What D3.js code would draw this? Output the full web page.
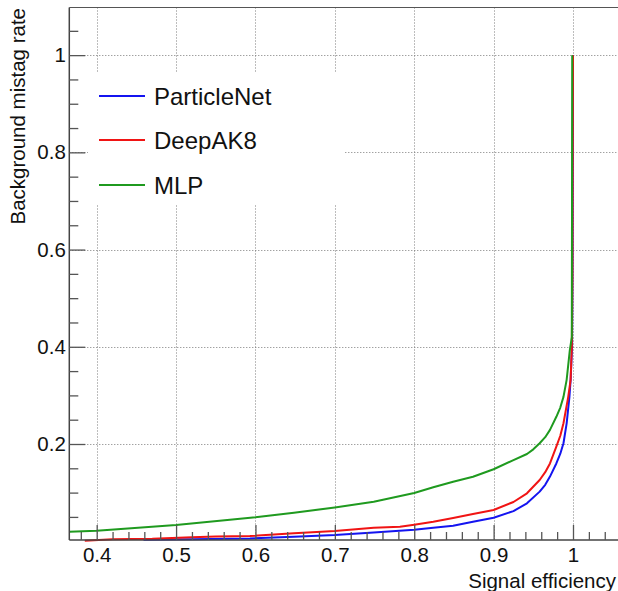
<!DOCTYPE html>
<html>
<head>
<meta charset="utf-8">
<script src="https://cdn.jsdelivr.net/npm/d3@7"></script>
<style>
  html, body { margin: 0; padding: 0; background: #fff; }
  svg { display: block; font-family: "Liberation Sans", Arial, Helvetica, sans-serif; }
</style>
</head>
<body>
<svg id="chart" width="618" height="591"></svg>
<script>
// ---------------- data ----------------
const seriesNames = ["ParticleNet", "DeepAK8", "MLP"];
const seriesColors = ["#1414f0", "#f01414", "#1f9a1f"];

const particleNetEff = [0.459, 0.52, 0.57, 0.593, 0.6485, 0.70, 0.749, 0.80, 0.824, 0.849, 0.874, 0.90, 0.925, 0.942, 0.958, 0.965, 0.971, 0.979, 0.984, 0.988, 0.992, 0.9955, 0.997, 0.9988, 0.9995, 1.0];
const particleNetMistag = [0.003, 0.004, 0.005, 0.0055, 0.0093, 0.0128, 0.018, 0.0235, 0.0278, 0.032, 0.040, 0.0484, 0.062, 0.078, 0.102, 0.116, 0.133, 0.160, 0.180, 0.2015, 0.2426, 0.297, 0.332, 0.40, 0.60, 1.0];

const deepAK8Eff = [0.385, 0.42, 0.47, 0.52, 0.55, 0.593, 0.6485, 0.70, 0.749, 0.782, 0.80, 0.824, 0.849, 0.874, 0.90, 0.925, 0.942, 0.958, 0.965, 0.971, 0.979, 0.984, 0.988, 0.994, 0.997, 0.9985, 0.9993, 0.9995, 1.0];
const deepAK8Mistag = [0.001, 0.004, 0.005, 0.008, 0.0095, 0.0107, 0.0163, 0.021, 0.0278, 0.0298, 0.034, 0.040, 0.0477, 0.056, 0.0642, 0.0807, 0.0986, 0.126, 0.142, 0.160, 0.1945, 0.217, 0.2426, 0.297, 0.332, 0.40, 0.55, 0.72, 1.0];

const mlpEff = [0.3655, 0.40, 0.50, 0.60, 0.6485, 0.70, 0.749, 0.80, 0.824, 0.849, 0.874, 0.90, 0.925, 0.942, 0.950, 0.958, 0.965, 0.971, 0.979, 0.984, 0.988, 0.992, 0.996, 0.9985, 0.999];
const mlpMistag = [0.0196, 0.0216, 0.0333, 0.0492, 0.0587, 0.0694, 0.0813, 0.0992, 0.111, 0.1225, 0.1327, 0.148, 0.167, 0.1795, 0.189, 0.2015, 0.214, 0.229, 0.256, 0.275, 0.297, 0.332, 0.393, 0.42, 1.0];

const xMajorTicks = [0.4, 0.5, 0.6, 0.7, 0.8, 0.9, 1.0];
const xTickLabels = ["0.4", "0.5", "0.6", "0.7", "0.8", "0.9", "1"];
const yMajorTicks = [0.2, 0.4, 0.6, 0.8, 1.0];
const yTickLabels = ["0.2", "0.4", "0.6", "0.8", "1"];
const xTitle = "Signal efficiency";
const yTitle = "Background mistag rate";

// ---------------- layout ----------------
const svg = d3.select("#chart");
const L = 69.3, T = 7.5, B = 540, R = 640;
const font = '"Liberation Sans", Arial, Helvetica, sans-serif';

const x = d3.scaleLinear().domain([0.3655, 1.0]).range([L, 573]);
x.domain([0.3655, x.invert(R)]).range([L, R]);
const y = d3.scaleLinear().domain([0.0025, 1.098]).range([B, T]);

const xMinor = d3.range(0.38, 1.081, 0.02).map(v => +v.toFixed(2)).filter(v => !xMajorTicks.some(m => Math.abs(m - v) < 1e-6));
const yMinor = d3.range(0.05, 1.09, 0.05).map(v => +v.toFixed(2)).filter(v => !yMajorTicks.some(m => Math.abs(m - v) < 1e-6));

// grid
const grid = svg.append("g").attr("stroke", "#7a7a7a").attr("stroke-width", 1).attr("stroke-dasharray", "1,2");
grid.selectAll("line.gx").data(xMajorTicks).join("line")
  .attr("x1", d => Math.round(x(d)) + 0.5).attr("x2", d => Math.round(x(d)) + 0.5)
  .attr("y1", T).attr("y2", B);
grid.selectAll("line.gy").data(yMajorTicks).join("line")
  .attr("y1", d => Math.round(y(d)) + 0.5).attr("y2", d => Math.round(y(d)) + 0.5)
  .attr("x1", L).attr("x2", R);

// legend box (white background, no border)
svg.append("rect").attr("x", 88).attr("y", 72).attr("width", 257).attr("height", 133).attr("fill", "#fff");

// clip for curves
svg.append("clipPath").attr("id", "clip").append("rect")
  .attr("x", L).attr("y", T).attr("width", R - L).attr("height", B - T + 2);

const line = d3.line().x(d => x(d[0])).y(d => y(d[1]));
const seriesData = [
  d3.zip(particleNetEff, particleNetMistag),
  d3.zip(deepAK8Eff, deepAK8Mistag),
  d3.zip(mlpEff, mlpMistag)
];
const curves = svg.append("g").attr("clip-path", "url(#clip)");
curves.selectAll("path").data(seriesData).join("path")
  .attr("d", line)
  .attr("fill", "none")
  .attr("stroke", (d, i) => seriesColors[i])
  .attr("stroke-width", 2)
  .attr("stroke-linejoin", "round");

// top frame line
svg.append("line").attr("x1", L).attr("x2", 618).attr("y1", T).attr("y2", T)
  .attr("stroke", "#555").attr("stroke-width", 1);

// x axis
const xAxis = d3.axisBottom(x).tickValues(xMajorTicks)
  .tickFormat((d, i) => xTickLabels[i]).tickSize(-15).tickPadding(7);
const gx = svg.append("g").attr("transform", `translate(0,${B})`).call(xAxis);
gx.select(".domain").attr("d", `M${L},0H${R}`).attr("stroke", "#444").attr("stroke-width", 1.5);
gx.selectAll(".tick line").attr("stroke", "#555").attr("stroke-width", 1.3);
gx.selectAll(".tick text").attr("font-family", font).attr("font-size", 20.5).attr("fill", "#111");
const xAxisMinor = d3.axisBottom(x).tickValues(xMinor).tickSize(-8).tickFormat("");
const gxm = svg.append("g").attr("transform", `translate(0,${B})`).call(xAxisMinor);
gxm.select(".domain").remove();
gxm.selectAll(".tick line").attr("stroke", "#555").attr("stroke-width", 1.3);

// y axis
const yAxis = d3.axisLeft(y).tickValues(yMajorTicks)
  .tickFormat((d, i) => yTickLabels[i]).tickSize(-16).tickPadding(3.5);
const gy = svg.append("g").attr("transform", `translate(${L},0)`).call(yAxis);
gy.select(".domain").attr("d", `M0,${T}V${B}`).attr("stroke", "#444").attr("stroke-width", 1.5);
gy.selectAll(".tick line").attr("stroke", "#555").attr("stroke-width", 1.3);
gy.selectAll(".tick text").attr("font-family", font).attr("font-size", 20.5).attr("fill", "#111");
const yAxisMinor = d3.axisLeft(y).tickValues(yMinor).tickSize(-9).tickFormat("");
const gym = svg.append("g").attr("transform", `translate(${L},0)`).call(yAxisMinor);
gym.select(".domain").remove();
gym.selectAll(".tick line").attr("stroke", "#555").attr("stroke-width", 1.3);

// axis titles
svg.append("text").attr("x", 616).attr("y", 588).attr("text-anchor", "end")
  .attr("font-family", font).attr("font-size", 20.5).attr("fill", "#111").text(xTitle);
svg.append("text").attr("transform", "translate(25,8) rotate(-90)").attr("text-anchor", "end")
  .attr("font-family", font).attr("font-size", 20.5).attr("fill", "#111").text(yTitle);

// legend
const legendY = [96, 140, 185];
const lg = svg.append("g");
lg.selectAll("line").data(seriesNames).join("line")
  .attr("x1", 99).attr("x2", 145)
  .attr("y1", (d, i) => legendY[i]).attr("y2", (d, i) => legendY[i])
  .attr("stroke", (d, i) => seriesColors[i]).attr("stroke-width", 2);
lg.selectAll("text").data(seriesNames).join("text")
  .attr("x", 154).attr("y", (d, i) => legendY[i] + 9)
  .attr("font-family", font).attr("font-size", 24).attr("fill", "#111")
  .text(d => d);
</script>
</body>
</html>
